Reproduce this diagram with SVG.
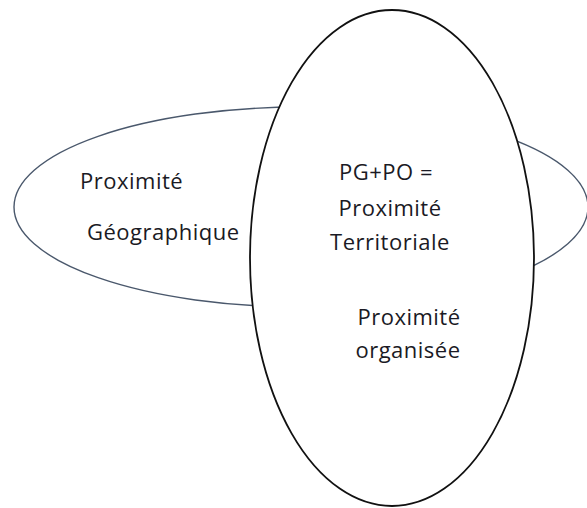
<svg xmlns="http://www.w3.org/2000/svg" width="587" height="508" viewBox="0 0 587 508">
  <style>
    .label { font-family: "Open Sans", "Liberation Sans", sans-serif; font-size: 22px; letter-spacing: 0.5px; fill: #1a1a24; }
    .geo { fill: #ffffff; stroke: #4a586c; stroke-width: 1.4; }
    .org { fill: #ffffff; stroke: #111111; stroke-width: 1.8; }
  </style>
  <rect width="587" height="508" fill="#ffffff"/>

  <!-- Geographic proximity: wide horizontal ellipse -->
  <g id="proximite-geographique">
    <ellipse class="geo" cx="301" cy="207" rx="287" ry="100"/>
    <text class="label" x="80" y="189">Proximité</text>
    <text class="label" x="87" y="240">Géographique</text>
  </g>

  <!-- Organised proximity: tall vertical ellipse drawn over the first -->
  <g id="proximite-organisee">
    <ellipse class="org" cx="392" cy="258" rx="142" ry="248"/>
    <text class="label" x="386" y="180" text-anchor="middle">PG+PO =</text>
    <text class="label" x="390" y="216" text-anchor="middle">Proximité</text>
    <text class="label" x="390" y="250" text-anchor="middle">Territoriale</text>
    <text class="label" x="409" y="325" text-anchor="middle">Proximité</text>
    <text class="label" x="408" y="358" text-anchor="middle">organisée</text>
  </g>

  <g id="connectors"/>
</svg>
